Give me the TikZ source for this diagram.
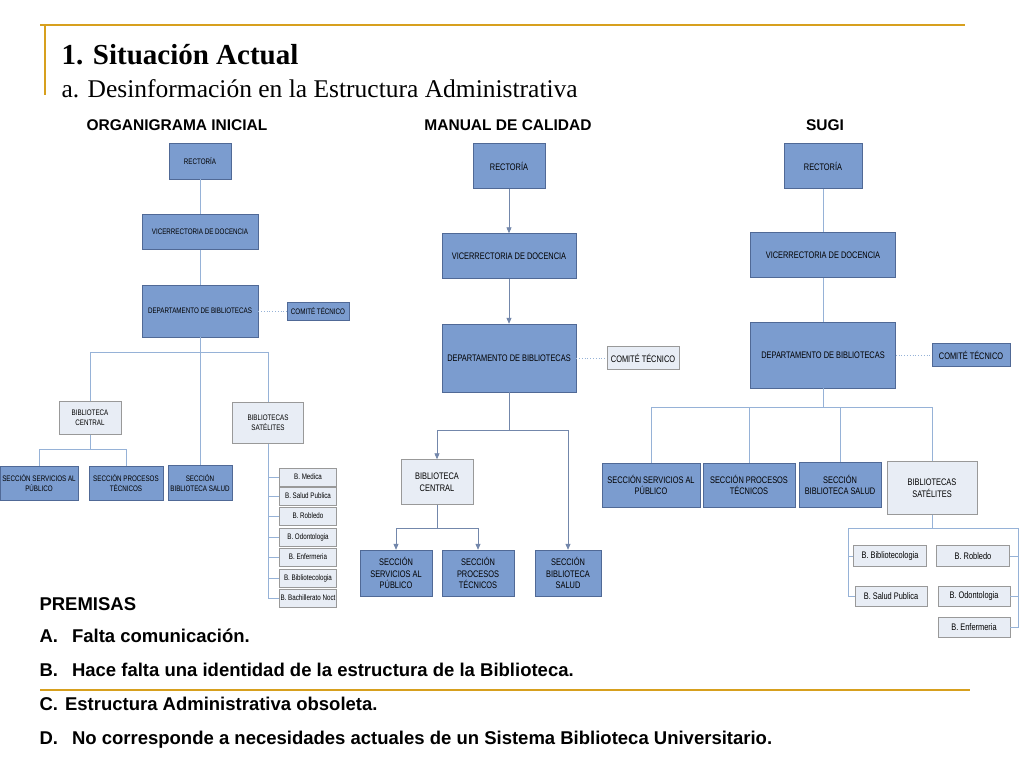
\documentclass[tikz,border=0pt]{standalone}
\usepackage{fontspec}
\setmainfont{Liberation Serif}
\setsansfont{Liberation Sans}
\newfontfamily\narrow[FakeStretch=0.78]{Liberation Sans}
\usetikzlibrary{arrows.meta}
\definecolor{dkbox}{RGB}{123,156,207}
\definecolor{dkline}{RGB}{80,105,150}
\definecolor{ltbox}{RGB}{232,237,245}
\definecolor{conn}{RGB}{150,178,215}
\definecolor{gold}{RGB}{215,160,30}
\tikzset{
  dk/.style={draw=dkline, fill=dkbox, align=center, inner sep=1pt, text depth=0pt},
  lt/.style={draw=gray!80, fill=ltbox, align=center, inner sep=1pt},
  sm/.style={font=\narrow\fontsize{8}{10}\selectfont},
  md/.style={font=\narrow\fontsize{9.5}{11.5}\selectfont},
  link/.style={draw=conn, line width=0.8pt},
  arr/.style={link, -{Triangle[length=6pt,width=5pt]}, draw=dkline!80},
  dot/.style={draw=conn, dotted, line width=0.8pt},
  head/.style={font=\sffamily\bfseries\fontsize{15.5}{18}\selectfont},
  prem/.style={font=\sffamily\bfseries\fontsize{18.5}{21}\selectfont, anchor=west}
}
\begin{document}
\begin{tikzpicture}[x=1pt,y=-1pt]
\useasboundingbox (0,0) rectangle (1024,768);
% title
\draw[gold, line width=2pt] (40,25) -- (965,25);
\draw[gold, line width=2pt] (45,25) -- (45,95);
\draw[gold, line width=2pt] (40,690) -- (970,690);
\node[anchor=west, font=\bfseries\fontsize{29}{32}\selectfont] (t1) at (58,55) {1. Situación Actual};
\node[anchor=west, font=\fontsize{25.5}{29}\selectfont] (t2) at (58,89) {a. Desinformación en la Estructura Administrativa};
\node[head] (h1) at (177,125) {ORGANIGRAMA INICIAL};
\node[head] (h2) at (508,125) {MANUAL DE CALIDAD};
\node[head] (h3) at (825,125) {SUGI};

% organigrama inicial
\node[dk, sm, minimum width=62, minimum height=36] (ar) at (200,161) {RECTORÍA};
\node[dk, sm, minimum width=116, minimum height=35] (av) at (200,232) {VICERRECTORIA DE DOCENCIA};
\node[dk, sm, minimum width=116, minimum height=52] (ad) at (200,311) {DEPARTAMENTO DE BIBLIOTECAS};
\node[dk, sm, minimum width=62, minimum height=18] (ac) at (318,311) {COMITÉ TÉCNICO};
\node[lt, sm, minimum width=62, minimum height=33] (abc) at (90,418) {BIBLIOTECA\\CENTRAL};
\node[lt, sm, minimum width=71, minimum height=41] (abs) at (268,423) {BIBLIOTECAS\\SATÉLITES};
\node[dk, sm, minimum width=78, minimum height=34] (asp) at (39,483) {SECCIÓN SERVICIOS AL\\PÚBLICO};
\node[dk, sm, minimum width=74, minimum height=34] (apt) at (126,483) {SECCIÓN PROCESOS\\TÉCNICOS};
\node[dk, sm, minimum width=64, minimum height=35] (asb) at (200,483) {SECCIÓN\\BIBLIOTECA SALUD};
\foreach \n/\y/\t in {1/477/B. Medica, 2/496/B. Salud Publica, 3/516/B. Robledo, 4/537/B. Odontologia,
                      5/557/B. Enfermeria, 6/578/B. Bibliotecologia, 7/598/B. Bachillerato Noct}
  \node[lt, sm, minimum width=57, minimum height=18] (as\n) at (308,\y) {\t};
\draw[link] (ar) -- (av);
\draw[link] (av) -- (ad);
\draw[dot] (ad) -- (ac);
\draw[link] (ad) -- (asb);
\draw[link] (ad.south) -- ++(0,15) -| (abc.north);
\draw[link] (ad.south) -- ++(0,15) -| (abs.north);
\draw[link] (abc.south) -- ++(0,15) -| (asp.north);
\draw[link] (abc.south) -- ++(0,15) -| (apt.north);
\draw[link] (abs.south) -- (abs.south |- as7.west);
\foreach \n in {1,...,7}
  \draw[link] (abs.south |- as\n.west) -- (as\n.west);

% manual de calidad
\node[dk, md, minimum width=72, minimum height=45] (br) at (509,166) {RECTORÍA};
\node[dk, md, minimum width=134, minimum height=45] (bv) at (509,256) {VICERRECTORIA DE DOCENCIA};
\node[dk, md, minimum width=134, minimum height=68] (bd) at (509,358) {DEPARTAMENTO DE BIBLIOTECAS};
\node[lt, md, minimum width=72, minimum height=23] (bc) at (643,358) {COMITÉ TÉCNICO};
\node[lt, md, minimum width=72, minimum height=45] (bbc) at (437,482) {BIBLIOTECA\\CENTRAL};
\node[dk, md, minimum width=72, minimum height=46] (bsp) at (396,573) {SECCIÓN\\SERVICIOS AL\\PÚBLICO};
\node[dk, md, minimum width=72, minimum height=46] (bpt) at (478,573) {SECCIÓN\\PROCESOS\\TÉCNICOS};
\node[dk, md, minimum width=66, minimum height=46] (bsb) at (568,573) {SECCIÓN\\BIBLIOTECA\\SALUD};
\draw[arr] (br) -- (bv);
\draw[arr] (bv) -- (bd);
\draw[dot] (bd) -- (bc);
\draw[arr] (bd.south) -- ++(0,38) -| (bbc.north);
\draw[arr] (bd.south) -- ++(0,38) -| (bsb.north);
\draw[arr] (bbc.south) -- ++(0,24) -| (bsp.north);
\draw[arr] (bbc.south) -- ++(0,24) -| (bpt.north);

% sugi
\node[dk, md, minimum width=78, minimum height=45] (cr) at (823,166) {RECTORÍA};
\node[dk, md, minimum width=145, minimum height=45] (cv) at (823,255) {VICERRECTORIA DE DOCENCIA};
\node[dk, md, minimum width=145, minimum height=66] (cd) at (823,355) {DEPARTAMENTO DE BIBLIOTECAS};
\node[dk, md, minimum width=78, minimum height=23] (cc) at (971,355) {COMITÉ TÉCNICO};
\node[dk, md, minimum width=98, minimum height=44] (csp) at (651,485) {SECCIÓN SERVICIOS AL\\PÚBLICO};
\node[dk, md, minimum width=92, minimum height=44] (cpt) at (749,485) {SECCIÓN PROCESOS\\TÉCNICOS};
\node[dk, md, minimum width=82, minimum height=45] (csb) at (840,485) {SECCIÓN\\BIBLIOTECA SALUD};
\node[lt, md, minimum width=90, minimum height=53] (cbs) at (932,488) {BIBLIOTECAS\\SATÉLITES};
\node[lt, md, minimum width=73, minimum height=21] (cs1) at (890,556) {B. Bibliotecologia};
\node[lt, md, minimum width=72, minimum height=20] (cs2) at (891,596) {B. Salud Publica};
\node[lt, md, minimum width=73, minimum height=21] (cs3) at (973,556) {B. Robledo};
\node[lt, md, minimum width=72, minimum height=20] (cs4) at (974,596) {B. Odontologia};
\node[lt, md, minimum width=72, minimum height=20] (cs5) at (974,627) {B. Enfermeria};
\coordinate (cl) at (848,528);
\coordinate (cq) at (1018,528);
\draw[link] (cr) -- (cv);
\draw[link] (cv) -- (cd);
\draw[dot] (cd) -- (cc);
\foreach \t in {csp,cpt,csb,cbs}
  \draw[link] (cd.south) -- ++(0,19) -| (\t.north);
\draw[link] (cbs.south) -- (cbs.south |- cl);
\draw[link] (cl) -- (cq);
\draw[link] (cl) |- (cs2.west);
\draw[link] (cl |- cs1.west) -- (cs1.west);
\draw[link] (cq) |- (cs5.east);
\draw[link] (cq |- cs3.east) -- (cs3.east);
\draw[link] (cq |- cs4.east) -- (cs4.east);

% premisas
\node[prem] (p0) at (36,604) {PREMISAS};
\node[prem] (pa) at (36,636) {A.\hspace{14pt}Falta comunicación.};
\node[prem] (pb) at (36,670) {B.\hspace{14pt}Hace falta una identidad de la estructura de la Biblioteca.};
\node[prem] (pc) at (36,704) {C.\hspace{7pt}Estructura Administrativa obsoleta.};
\node[prem] (pd) at (36,740) {D.\hspace{14pt}No corresponde a necesidades actuales de un Sistema Biblioteca Universitario.};
\end{tikzpicture}
\end{document}
